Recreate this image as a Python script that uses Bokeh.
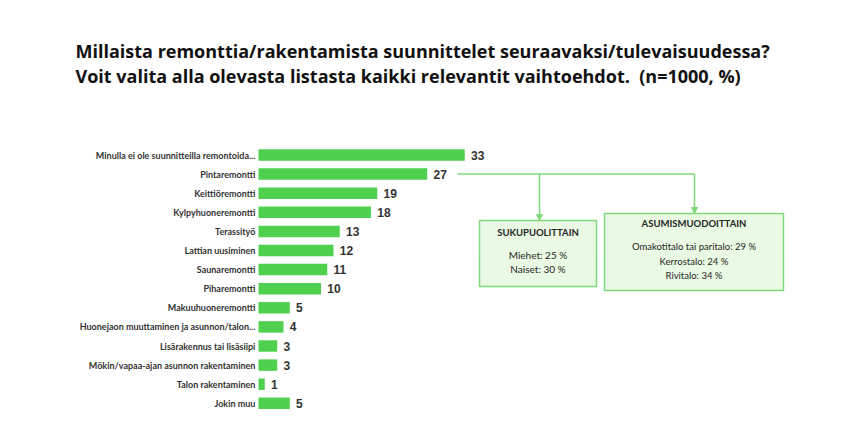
from bokeh.plotting import figure
from bokeh.models import Range1d, ColumnDataSource, Arrow, NormalHead
from bokeh.core.properties import value
from bokeh.embed import file_html
from bokeh.resources import INLINE

title_lines = [
    "Millaista remonttia/rakentamista suunnittelet seuraavaksi/tulevaisuudessa?",
    "Voit valita alla olevasta listasta kaikki relevantit vaihtoehdot.\u00a0 (n=1000, %)",
]
categories = [
    "Minulla ei ole suunnitteilla remontoida...",
    "Pintaremontti",
    "Keittiöremontti",
    "Kylpyhuoneremontti",
    "Terassityö",
    "Lattian uusiminen",
    "Saunaremontti",
    "Piharemontti",
    "Makuuhuoneremontti",
    "Huonejaon muuttaminen ja asunnon/talon...",
    "Lisärakennus tai lisäsiipi",
    "Mökin/vapaa-ajan asunnon rakentaminen",
    "Talon rakentaminen",
    "Jokin muu",
]
values = [33, 27, 19, 18, 13, 12, 11, 10, 5, 4, 3, 3, 1, 5]

gender_title = "SUKUPUOLITTAIN"
gender_lines = ["Miehet: 25 %", "Naiset: 30 %"]
housing_title = "ASUMISMUODOITTAIN"
housing_lines = ["Omakotitalo tai paritalo: 29 %", "Kerrostalo: 24 %", "Rivitalo: 34 %"]

W, H = 852, 432
PX_PER_UNIT = 6.25
X0 = 258.0          # screen x of value 0
ROW0 = 154.5        # screen y of first row centre
PITCH = 19.1

def X(sx):
    return (sx - X0) / PX_PER_UNIT

def Y(sy):
    return (sy - ROW0) / PITCH

p = figure(width=W, height=H, output_backend="svg", toolbar_location=None,
           x_range=Range1d(-X0 / PX_PER_UNIT, (W - X0) / PX_PER_UNIT),
           y_range=Range1d((H - ROW0) / PITCH, -ROW0 / PITCH),
           min_border=0, min_border_left=0, min_border_right=0,
           min_border_top=0, min_border_bottom=0)
p.axis.visible = False
p.grid.visible = False
p.outline_line_color = None
p.background_fill_color = "white"
p.border_fill_color = "white"

rows = list(range(len(categories)))
src = ColumnDataSource(dict(y=rows, v=values, cat=categories,
                            lab=[str(v) for v in values],
                            lx=[v + 1.0 for v in values]))

BAR = "#4fd14f"
LINE = "#80d97c"
BOXFILL = "#e9f9e3"
TXT = "#262626"

p.hbar(y="y", left=0, right="v", height=0.6, source=src,
       fill_color=BAR, line_color=None)
p.text(x="lx", y="y", text="lab", source=src, text_baseline="middle",
       text_align="left", text_font=value("Liberation Sans"),
       text_font_style="bold", text_font_size="12px", text_color="#333333")
p.text(x=-0.5, y="y", text="cat", source=src, text_baseline="middle",
       text_align="right", text_font=value("Lato"), text_font_style="bold",
       text_font_size="9px", text_color="#333333")

# title
p.text(x=[X(75), X(75)], y=[Y(50), Y(75)], text=title_lines,
       text_baseline="middle", text_align="left", text_font=value("Open Sans"),
       text_font_style="bold", text_font_size="18px", text_color="#111111")

# connector lines
yc = 1.0
p.line(x=[X(457), X(694)], y=[yc, yc], line_color=LINE, line_width=1.5)
for bx, top in [(539, 220), (694, 213)]:
    p.add_layout(Arrow(end=NormalHead(size=6, fill_color=LINE, line_color=LINE),
                       x_start=X(bx), y_start=yc, x_end=X(bx), y_end=Y(top),
                       line_color=LINE, line_width=1.5))

# boxes
p.quad(left=[X(479), X(604)], right=[X(596), X(783)],
       top=[Y(220), Y(213)], bottom=[Y(286), Y(290)],
       fill_color=BOXFILL, line_color=LINE, line_width=1.5)

gx = X(537.5)
p.text(x=[gx], y=[Y(232)], text=[gender_title], text_align="center",
       text_baseline="middle", text_font=value("Lato"), text_font_style="bold",
       text_font_size="9.5px", text_color=TXT)
p.text(x=[gx, gx], y=[Y(254), Y(268)], text=gender_lines, text_align="center",
       text_baseline="middle", text_font=value("Lato"),
       text_font_size="10px", text_color=TXT)

hx = X(693.5)
p.text(x=[hx], y=[Y(223)], text=[housing_title], text_align="center",
       text_baseline="middle", text_font=value("Lato"), text_font_style="bold",
       text_font_size="9.5px", text_color=TXT)
p.text(x=[hx, hx, hx], y=[Y(246), Y(261), Y(275)], text=housing_lines,
       text_align="center", text_baseline="middle", text_font=value("Lato"),
       text_font_size="9.5px", text_color=TXT)

open("out.html", "w").write(file_html(p, INLINE))
